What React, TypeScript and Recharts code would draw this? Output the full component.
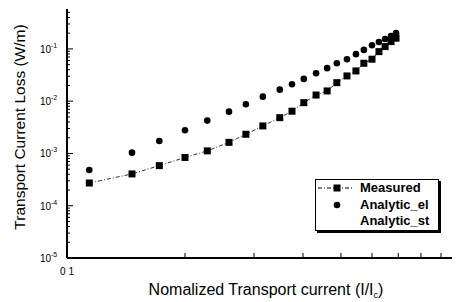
import {
  ScatterChart,
  Scatter,
  XAxis,
  YAxis,
  Legend,
} from 'recharts';

// normalized current I/Ic
const current = [
  0.114, 0.1465, 0.172, 0.2, 0.228, 0.259, 0.286, 0.316, 0.349, 0.375, 0.402,
  0.432, 0.461, 0.488, 0.518, 0.546, 0.572, 0.6, 0.625, 0.648, 0.671, 0.691,
];
const measured = [
  2.72e-4, 4.06e-4, 5.85e-4, 8.38e-4, 1.12e-3, 1.63e-3, 2.33e-3, 3.36e-3, 4.84e-3,
  6.43e-3, 9.37e-3, 0.0131, 0.0157, 0.0226, 0.0304, 0.0379, 0.0532, 0.0635, 0.0887,
  0.1107, 0.138, 0.16,
];
const analyticEl = [
  4.83e-4, 1.035e-3, 1.73e-3, 2.78e-3, 4.25e-3, 6.3e-3, 8.75e-3, 0.0122, 0.0166,
  0.0211, 0.0267, 0.0343, 0.0428, 0.0532, 0.0635, 0.0793, 0.0957, 0.1178, 0.136,
  0.155, 0.177, 0.2,
];

const xTicks = [0.1, 0.2, 0.3, 0.4, 0.5, 0.6, 0.7, 0.8, 0.9];
const yTicks = [
  1e-5, 2e-5, 3e-5, 4e-5, 5e-5, 6e-5, 7e-5, 8e-5, 9e-5,
  1e-4, 2e-4, 3e-4, 4e-4, 5e-4, 6e-4, 7e-4, 8e-4, 9e-4,
  1e-3, 2e-3, 3e-3, 4e-3, 5e-3, 6e-3, 7e-3, 8e-3, 9e-3,
  1e-2, 2e-2, 3e-2, 4e-2, 5e-2, 6e-2, 7e-2, 8e-2, 9e-2,
  1e-1, 2e-1, 3e-1, 4e-1, 5e-1,
];

const measuredData = current.map((x, i) => ({ x, y: measured[i] }));
const elData = current.map((x, i) => ({ x, y: analyticEl[i] }));

const W = 457;
const H = 302;
const LEFT = 67;
const RIGHT = 452;
const TOP = 9;
const BOTTOM = 258;
const FONT = '"Liberation Sans", Arial, sans-serif';

const isMajor = (v: number) => Math.abs(Math.log10(v) - Math.round(Math.log10(v))) < 1e-6;

const LeftTick = (props: any) => {
  const { y, payload } = props;
  const v = payload.value;
  const major = isMajor(v);
  return (
    <g>
      <line x1={LEFT} x2={LEFT + (major ? 6 : 3)} y1={y} y2={y} stroke="#000" strokeWidth={1} />
      {major && (
        <text x={51} y={y + 4} textAnchor="end" fontSize={10} fontFamily={FONT} fill="#000">
          10
        </text>
      )}
      {major && (
        <text x={51} y={y - 1} textAnchor="start" fontSize={7} fontFamily={FONT} fill="#000">
          {Math.round(Math.log10(v))}
        </text>
      )}
    </g>
  );
};

const RightTick = (props: any) => {
  const { y, payload } = props;
  const major = isMajor(payload.value);
  return <line x1={RIGHT} x2={RIGHT - (major ? 6 : 3)} y1={y} y2={y} stroke="#000" strokeWidth={1} />;
};

const BottomTick = (props: any) => {
  const { x, payload } = props;
  return (
    <g>
      <line x1={x} x2={x} y1={BOTTOM} y2={BOTTOM - 5} stroke="#000" strokeWidth={1} />
      {payload.value === 0.1 && (
        <text x={x} y={BOTTOM + 17} textAnchor="middle" fontSize={10} fontFamily={FONT} fill="#000">
          0 1
        </text>
      )}
    </g>
  );
};

const TopTick = (props: any) => {
  const { x } = props;
  return <line x1={x} x2={x} y1={TOP} y2={TOP + 5} stroke="#000" strokeWidth={1} />;
};

const Square = (p: any) => <rect x={p.cx - 3.5} y={p.cy - 3.5} width={7} height={7} fill="#000" />;
const Dot = (p: any) => <circle cx={p.cx} cy={p.cy} r={3.3} fill="#000" />;

const renderLegend = () => (
  <div
    style={{
      width: 122,
      height: 50,
      border: '1px solid #000',
      boxShadow: '2px 2px 0 #000',
      background: '#fff',
      fontFamily: FONT,
      fontWeight: 'bold',
      fontSize: 13,
      position: 'relative',
    }}
  >
    <svg width={40} height={50} style={{ position: 'absolute', left: 0, top: 0 }}>
      <line x1={2} x2={38} y1={8} y2={8} stroke="#000" strokeDasharray="4 2 1 2" />
      <rect x={17.5} y={4.5} width={7} height={7} fill="#000" />
      <circle cx={21} cy={25} r={3.3} fill="#000" />
    </svg>
    <div style={{ position: 'absolute', left: 44, top: 0, lineHeight: '16.5px' }}>
      <div>Measured</div>
      <div>Analytic_el</div>
      <div>Analytic_st</div>
    </div>
  </div>
);

export default function App() {
  return (
    <div style={{ position: 'absolute', left: 0, top: 0, width: W, height: H, background: '#fff' }}>
      <ScatterChart
        width={W}
        height={H}
        margin={{ top: TOP, right: W - RIGHT, left: 0, bottom: H - BOTTOM - 30 }}
      >
        <XAxis
          xAxisId="b"
          dataKey="x"
          type="number"
          scale="log"
          domain={[0.1, 0.96]}
          allowDataOverflow
          ticks={xTicks}
          interval={0}
          tick={BottomTick}
          tickLine={false}
          axisLine={{ stroke: '#000', strokeWidth: 2 }}
          height={30}
          label={{
            content: () => (
              <text x={266} y={295} textAnchor="middle" fontSize={16} fontFamily={FONT} fill="#000">
                Nomalized Transport current (I/I
                <tspan dy={3} fontSize={9}>c</tspan>
                <tspan dy={-3}>)</tspan>
              </text>
            ),
          }}
        />
        <XAxis
          xAxisId="t"
          orientation="top"
          dataKey="x"
          type="number"
          scale="log"
          domain={[0.1, 0.96]}
          allowDataOverflow
          ticks={xTicks}
          interval={0}
          tick={TopTick}
          tickLine={false}
          axisLine={{ stroke: '#000', strokeWidth: 2 }}
          height={0}
        />
        <YAxis
          yAxisId="l"
          dataKey="y"
          type="number"
          scale="log"
          domain={[1e-5, 0.58]}
          allowDataOverflow
          ticks={yTicks}
          interval={0}
          tick={LeftTick}
          tickLine={false}
          axisLine={{ stroke: '#000', strokeWidth: 2 }}
          width={LEFT}
          label={{
            content: () => (
              <text
                x={25}
                y={127}
                transform="rotate(-90, 25, 127)"
                textAnchor="middle"
                fontSize={15.5}
                fontFamily={FONT}
                fill="#000"
              >
                Transport Current Loss (W/m)
              </text>
            ),
          }}
        />
        <YAxis
          yAxisId="r"
          orientation="right"
          dataKey="y"
          type="number"
          scale="log"
          domain={[1e-5, 0.58]}
          allowDataOverflow
          ticks={yTicks}
          interval={0}
          tick={RightTick}
          tickLine={false}
          axisLine={{ stroke: '#555', strokeWidth: 1 }}
          width={0}
        />
        <Scatter
          name="Measured"
          data={measuredData}
          xAxisId="b"
          yAxisId="l"
          shape={Square}
          line={{ stroke: '#333', strokeWidth: 1, strokeDasharray: '4 2 1 2' }}
          lineType="joint"
          isAnimationActive={false}
        />
        <Scatter
          name="Analytic_el"
          data={elData}
          xAxisId="b"
          yAxisId="l"
          shape={Dot}
          isAnimationActive={false}
        />
        <Legend
          layout="horizontal"
          verticalAlign="middle"
          align="center"
          content={renderLegend}
          wrapperStyle={{ left: 315, top: 179, width: 124, height: 52 }}
        />
      </ScatterChart>
    </div>
  );
}
